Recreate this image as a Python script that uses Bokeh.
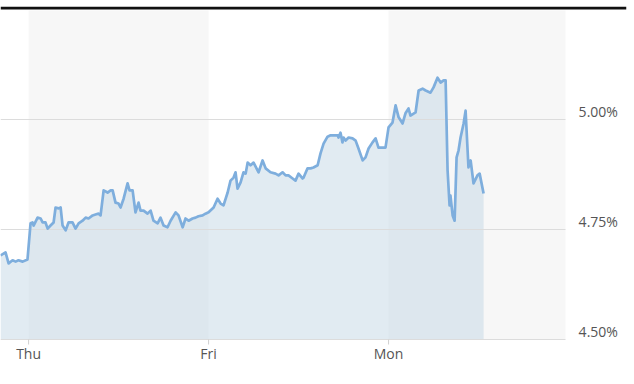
from bokeh.plotting import figure
from bokeh.models import Range1d
from bokeh.core.properties import value
from bokeh.embed import file_html
from bokeh.resources import INLINE

# time in trading days (Thu = 0, Fri = 1, Mon = 2)
t = [-0.156, -0.128, -0.111, -0.089, -0.072, -0.056, -0.033, -0.006, 0.011, 0.022,
     0.028, 0.050, 0.067, 0.078, 0.094, 0.106, 0.122, 0.139, 0.150, 0.167,
     0.178, 0.189, 0.206, 0.222, 0.244, 0.261, 0.278, 0.300, 0.317, 0.333,
     0.356, 0.372, 0.389, 0.400, 0.417, 0.439, 0.456, 0.467, 0.483, 0.500,
     0.511, 0.528, 0.550, 0.561, 0.578, 0.594, 0.611, 0.622, 0.639, 0.661,
     0.678, 0.694, 0.717, 0.733, 0.750, 0.772, 0.789, 0.817, 0.833, 0.856,
     0.872, 0.889, 0.911, 0.928, 0.944, 0.967, 0.983, 1.000, 1.028, 1.050,
     1.067, 1.083, 1.106, 1.122, 1.139, 1.150, 1.161, 1.178, 1.194, 1.206,
     1.217, 1.233, 1.250, 1.278, 1.300, 1.317, 1.344, 1.372, 1.389, 1.411,
     1.428, 1.444, 1.467, 1.483, 1.500, 1.522, 1.528, 1.550, 1.567, 1.583,
     1.606, 1.622, 1.639, 1.661, 1.678, 1.694, 1.717, 1.722, 1.733, 1.744,
     1.750, 1.761, 1.778, 1.800, 1.817, 1.833, 1.856, 1.872, 1.889, 1.911,
     1.928, 1.944, 1.967, 1.983, 2.000, 2.022, 2.039, 2.056, 2.078, 2.094,
     2.111, 2.122, 2.150, 2.167, 2.189, 2.206, 2.233, 2.250, 2.272, 2.289,
     2.306, 2.317, 2.328, 2.339, 2.344, 2.356, 2.367, 2.378, 2.389, 2.400,
     2.417, 2.428, 2.444, 2.456, 2.472, 2.494, 2.506, 2.528]

yld = [4.691, 4.698, 4.673, 4.680, 4.677, 4.680, 4.677, 4.682, 4.764, 4.766,
       4.759, 4.777, 4.775, 4.766, 4.766, 4.752, 4.759, 4.766, 4.800, 4.798,
       4.800, 4.759, 4.748, 4.766, 4.766, 4.752, 4.764, 4.770, 4.777, 4.775,
       4.782, 4.784, 4.786, 4.782, 4.839, 4.834, 4.839, 4.839, 4.811, 4.809,
       4.800, 4.820, 4.855, 4.839, 4.839, 4.789, 4.811, 4.793, 4.793, 4.786,
       4.793, 4.770, 4.764, 4.777, 4.759, 4.755, 4.770, 4.789, 4.782, 4.755,
       4.775, 4.770, 4.775, 4.777, 4.780, 4.782, 4.786, 4.789, 4.800, 4.820,
       4.809, 4.805, 4.834, 4.861, 4.868, 4.880, 4.843, 4.857, 4.880, 4.877,
       4.902, 4.896, 4.902, 4.880, 4.907, 4.889, 4.880, 4.877, 4.873, 4.880,
       4.873, 4.873, 4.866, 4.861, 4.877, 4.866, 4.868, 4.889, 4.889, 4.891,
       4.896, 4.923, 4.945, 4.961, 4.964, 4.964, 4.964, 4.959, 4.970, 4.948,
       4.959, 4.952, 4.959, 4.957, 4.952, 4.934, 4.907, 4.914, 4.934, 4.948,
       4.957, 4.936, 4.936, 4.936, 4.982, 4.993, 5.032, 5.005, 4.991, 5.014,
       5.025, 5.009, 5.016, 5.066, 5.070, 5.066, 5.061, 5.073, 5.095, 5.084,
       5.089, 5.089, 4.884, 4.805, 4.827, 4.782, 4.770, 4.914, 4.930, 4.959,
       4.991, 5.020, 4.891, 4.907, 4.855, 4.873, 4.877, 4.832]

day_ticks = [0, 1, 2]
day_labels = ["Thu", "Fri", "Mon"]
y_ticks = [4.50, 4.75, 5.00]
y_labels = ["4.50%", "4.75%", "5.00%"]

PX = 1 / 440.0  # one pixel in % units
X0, X1, XPLOT = -0.156, 3.322, 2.983
Y0, YB, Y1 = 4.50, 4.50 - 45 * PX, 4.50 + 333 * PX

p = figure(width=634, height=384, output_backend="svg", toolbar_location=None,
           x_range=Range1d(X0, X1), y_range=Range1d(YB, Y1),
           min_border_left=0, min_border_right=8, min_border_top=6,
           min_border_bottom=0, outline_line_color=None,
           background_fill_color="white", border_fill_color="white")
p.xgrid.visible = False
p.ygrid.visible = False
p.xaxis.visible = False
p.yaxis.visible = False

# top black bar
p.quad(left=X0, right=X1, bottom=Y1 - 3 * PX, top=Y1, fill_color="#111111", line_color=None)
# day bands
p.quad(left=[day_ticks[0], day_ticks[2]], right=[day_ticks[1], XPLOT],
       bottom=Y0, top=Y1 - 4 * PX, fill_color="#f7f7f7", line_color=None)

# area
p.varea(x=t, y1=Y0, y2=yld, fill_color="#c8dae8", fill_alpha=0.55)

# grid lines
p.segment(x0=[X0] * 3, x1=[XPLOT] * 3, y0=y_ticks, y1=y_ticks,
          line_color="#dcdcdc", line_width=1.2)

# day ticks
p.segment(x0=day_ticks, x1=day_ticks, y0=[Y0] * 3, y1=[Y0 - 5 * PX] * 3,
          line_color="#d0d0d0", line_width=1)

p.line(t, yld, line_color="#7eaedd", line_width=2.7, line_join="round")

# y labels on the right (sitting just above their grid line)
p.text(x=[3.056] * 3, y=[v + 8 * PX for v in y_ticks], text=y_labels,
       text_font=value("Open Sans"), text_font_size="14px", text_color="#555555",
       text_align="left", text_baseline="middle")

# day labels below
p.text(x=day_ticks, y=[Y0 - 14 * PX] * 3, text=day_labels, text_font=value("Open Sans"),
       text_font_size="14px", text_color="#555555", text_align="center",
       text_baseline="middle")

open("out.html", "w").write(file_html(p, INLINE))
